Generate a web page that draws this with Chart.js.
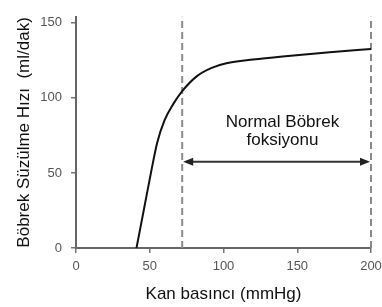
<!DOCTYPE html>
<html>
<head>
<meta charset="utf-8">
<script src="https://cdn.jsdelivr.net/npm/chart.js@4"></script>
<style>
  html, body { margin: 0; padding: 0; background: #fff; }
  #wrap { width: 382px; height: 307px; }
</style>
</head>
<body>
<div id="wrap"><canvas id="gfrChart" width="382" height="307"></canvas></div>
<script>
// Kan basıncı (mmHg) vs böbrek süzülme hızı (ml/dak)
var pressure = [41, 46, 51, 55, 60, 66, 72, 82, 92, 102, 120, 140, 172, 200];
var filtration = [0, 25.5, 51, 70, 85, 96, 104.5, 114.5, 120, 123, 125.5, 127.6, 130.4, 132.6];

// normal range borders
var rangeStart = 72;
var rangeEnd = 200;
var yTicks = [0, 50, 100, 150];
var xTicks = [0, 50, 100, 150, 200];

var font = "'Liberation Sans', Arial, sans-serif";

// arrow + label between the dashed lines
var rangeLabel = {
    id: 'rangeLabel',
    afterDatasetsDraw: function(chart) {
        var ctx = chart.ctx;
        var xs = chart.scales.x, ys = chart.scales.y;
        var x1 = xs.getPixelForValue(rangeStart);
        var x2 = xs.getPixelForValue(rangeEnd);
        var y = ys.getPixelForValue(57.5);
        ctx.save();
        ctx.strokeStyle = '#333';
        ctx.fillStyle = '#222';
        ctx.lineWidth = 2;
        ctx.beginPath();
        ctx.moveTo(x1 + 4, y);
        ctx.lineTo(x2 - 4, y);
        ctx.stroke();
        // heads
        ctx.beginPath();
        ctx.moveTo(x1 + 1, y);
        ctx.lineTo(x1 + 11, y - 4);
        ctx.lineTo(x1 + 11, y + 4);
        ctx.closePath();
        ctx.fill();
        ctx.beginPath();
        ctx.moveTo(x2 - 1, y);
        ctx.lineTo(x2 - 11, y - 4);
        ctx.lineTo(x2 - 11, y + 4);
        ctx.closePath();
        ctx.fill();

        ctx.font = '17px ' + font;
        ctx.textAlign = 'center';
        ctx.textBaseline = 'middle';
        ctx.fillStyle = '#111';
        var tx = xs.getPixelForValue(140);
        ctx.fillText('Normal Böbrek', tx, ys.getPixelForValue(83.5));
        ctx.fillText('foksiyonu', tx, ys.getPixelForValue(71.4));
        ctx.restore();
    }
};

var ctx = document.getElementById('gfrChart').getContext('2d');
var chart = new Chart(ctx, {
    type: 'line',
    data: {
        datasets: [{
            data: pressure.map(function(p, i) { return {x: p, y: filtration[i]}; }),
            borderColor: '#111',
            borderWidth: 2,
            pointRadius: 0,
            cubicInterpolationMode: 'monotone',
            clip: false
        }, {
            data: [{x: rangeStart, y: 0}, {x: rangeStart, y: 154}],
            borderColor: '#8a8a8a',
            borderWidth: 2,
            borderDash: [7, 4],
            pointRadius: 0,
            clip: false
        }, {
            data: [{x: rangeEnd, y: 0}, {x: rangeEnd, y: 154}],
            borderColor: '#8a8a8a',
            borderWidth: 2,
            borderDash: [7, 4],
            pointRadius: 0,
            clip: false
        }]
    },
    options: {
        responsive: false,
        animation: false,
        layout: { padding: { top: 15, right: 0, left: 0, bottom: 0 } },
        plugins: { legend: { display: false }, tooltip: { enabled: false } },
        scales: {
            x: {
                type: 'linear',
                min: 0,
                max: 200,
                afterFit: function(s) { s.height = 59; s.paddingRight = 11; },
                afterBuildTicks: function(s) { s.ticks = xTicks.map(function(v) { return {value: v}; }); },
                grid: { drawOnChartArea: false, tickLength: 5, color: '#777', lineWidth: 1.5 },
                border: { color: '#666', width: 2 },
                ticks: { padding: 6, color: '#555', font: { family: font, size: 13 }, maxRotation: 0 },
                title: {
                    display: true,
                    text: 'Kan basıncı (mmHg)',
                    color: '#111',
                    font: { family: font, size: 17 },
                    padding: { top: 0, bottom: 2 }
                }
            },
            y: {
                min: 0,
                max: 154,
                afterFit: function(s) { s.width = 76; },
                afterBuildTicks: function(s) { s.ticks = yTicks.map(function(v) { return {value: v}; }); },
                grid: { drawOnChartArea: false, tickLength: 5, color: '#777', lineWidth: 1.5 },
                border: { color: '#666', width: 2 },
                ticks: { padding: 9, color: '#555', font: { family: font, size: 13 } },
                title: {
                    display: true,
                    text: 'Böbrek Süzülme Hızı  (ml/dak)',
                    color: '#111',
                    font: { family: font, size: 17 },
                    padding: { top: 14, bottom: 0 }
                }
            }
        }
    },
    plugins: [rangeLabel]
});
</script>
</body>
</html>
